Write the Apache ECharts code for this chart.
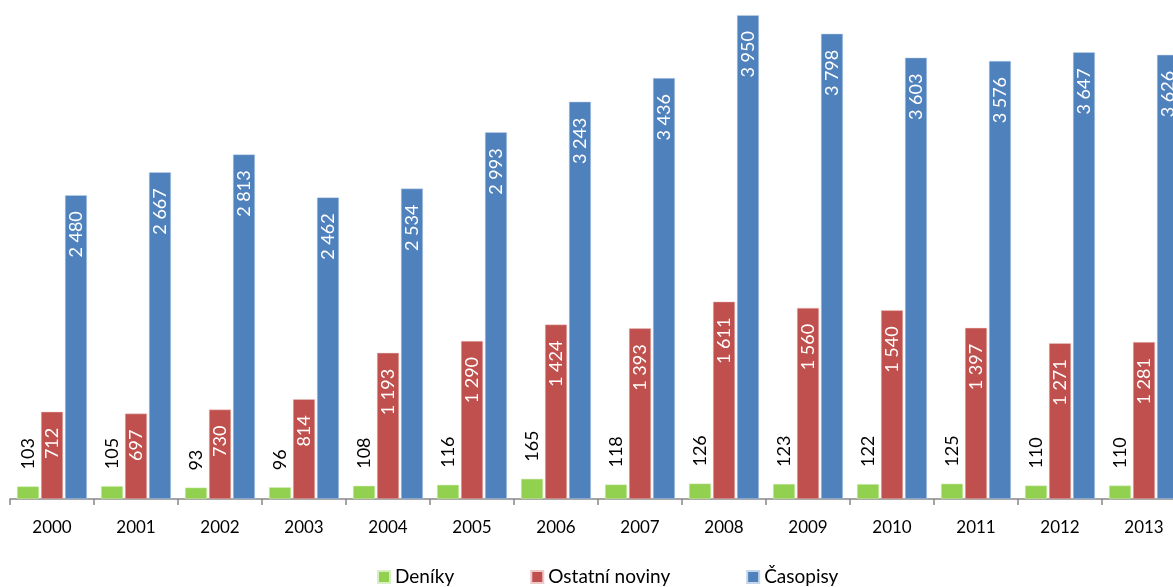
<!DOCTYPE html>
<html>
<head>
<meta charset="utf-8">
<script src="https://cdn.jsdelivr.net/npm/echarts@6/dist/echarts.min.js"></script>
<style>
  html, body { margin: 0; padding: 0; background: #fff; overflow: hidden; }
  /* graf je vpravo oriznuty, proto je plocha sirsi nez okno */
  #chart { width: 1186px; height: 587px; }
</style>
</head>
<body>
<div id="chart"></div>
<script>
var years = ['2000', '2001', '2002', '2003', '2004', '2005', '2006', '2007', '2008', '2009', '2010', '2011', '2012', '2013'];
var deniky = [103, 105, 93, 96, 108, 116, 165, 118, 126, 123, 122, 125, 110, 110];
var ostatni = [712, 697, 730, 814, 1193, 1290, 1424, 1393, 1611, 1560, 1540, 1397, 1271, 1281];
var casopisy = [2480, 2667, 2813, 2462, 2534, 2993, 3243, 3436, 3950, 3798, 3603, 3576, 3647, 3626];

var FONT = 'Lato';

// cislo s mezerou jako oddelovacem tisicu
function fmt(p) {
  return String(p.value).replace(/\B(?=(\d{3})+(?!\d))/g, ' ');
}

var outsideLabel = {
  show: true,
  position: 'top',
  rotate: 90,
  align: 'left',
  verticalAlign: 'middle',
  distance: 17,
  color: '#000',
  fontFamily: FONT,
  fontSize: 18,
  formatter: fmt
};

var insideLabel = {
  show: true,
  position: 'insideTop',
  rotate: 90,
  align: 'right',
  verticalAlign: 'middle',
  distance: 16,
  color: '#fff',
  fontFamily: FONT,
  fontSize: 18,
  formatter: fmt
};

var myChart = echarts.init(document.getElementById('chart'));

var option = {
  animation: false,
  grid: {
    left: 10,
    right: 0,
    top: 9,
    bottom: 88
  },
  legend: {
    top: 566,
    left: 377,
    padding: 0,
    itemWidth: 12,
    itemHeight: 12,
    itemGap: 76,
    icon: 'rect',
    textStyle: { fontFamily: FONT, fontSize: 19, color: '#000', lineHeight: 22 },
    data: ['Deníky', 'Ostatní noviny', 'Časopisy']
  },
  xAxis: {
    type: 'category',
    data: years,
    axisLine: { lineStyle: { color: '#868686', width: 1.5 } },
    axisTick: { show: true, length: 6, lineStyle: { color: '#868686', width: 1.5 } },
    axisLabel: { color: '#000', fontFamily: FONT, fontSize: 17, margin: 20 }
  },
  yAxis: {
    type: 'value',
    min: 0,
    max: 4000,
    show: false,
    splitLine: { show: false }
  },
  series: [
    {
      name: 'Deníky',
      type: 'bar',
      barWidth: 22,
      barGap: '9%',
      itemStyle: { color: '#92D050', borderColor: '#d8eec3', borderWidth: 0.5 },
      label: outsideLabel,
      data: deniky
    },
    {
      name: 'Ostatní noviny',
      type: 'bar',
      barWidth: 22,
      barGap: '9%',
      itemStyle: { color: '#C0504D', borderColor: '#ecc8c7', borderWidth: 0.5 },
      label: insideLabel,
      data: ostatni
    },
    {
      name: 'Časopisy',
      type: 'bar',
      barWidth: 22,
      barGap: '9%',
      itemStyle: { color: '#4F81BD', borderColor: '#c5d6ea', borderWidth: 0.5 },
      label: insideLabel,
      data: casopisy
    }
  ]
};

myChart.setOption(option);
</script>
</body>
</html>
